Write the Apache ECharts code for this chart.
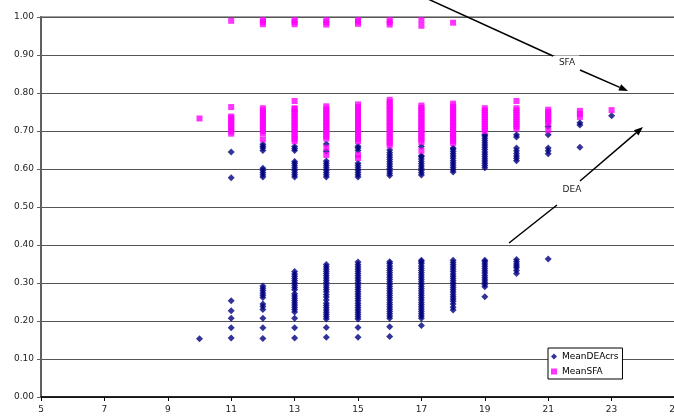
<!DOCTYPE html>
<html>
<head>
<meta charset="utf-8">
<script src="https://cdn.jsdelivr.net/npm/echarts@6/dist/echarts.min.js"></script>
<style>
  html, body { margin: 0; padding: 0; background: #fff; }
  #chart { width: 674px; height: 417px; }
</style>
</head>
<body>
<div id="chart"></div>
<script>
// tick labels
var xTicks = [5, 7, 9, 11, 13, 15, 17, 19, 21, 23, 25];
var yTicks = [0, 0.1, 0.2, 0.3, 0.4, 0.5, 0.6, 0.7, 0.8, 0.9, 1.0];

// x positions of the columns
var xValues = [10, 11, 12, 13, 14, 15, 16, 17, 18, 19, 20, 21, 22, 23];

// MeanDEAcrs, one list per x column
var deaValues = [
  [0.153],
  [0.155, 0.182, 0.207, 0.227, 0.253, 0.577, 0.645],
  [0.154, 0.182, 0.207, 0.23, 0.238, 0.245, 0.262, 0.268, 0.274, 0.28, 0.286, 0.292,
   0.579, 0.585, 0.591, 0.597, 0.602, 0.649, 0.655, 0.66, 0.665],
  [0.155, 0.182, 0.207, 0.224, 0.23, 0.236, 0.242, 0.248, 0.254, 0.26, 0.266, 0.272,
   0.282, 0.288, 0.294, 0.3, 0.306, 0.312, 0.318, 0.324, 0.33,
   0.579, 0.585, 0.591, 0.597, 0.603, 0.609, 0.615, 0.62, 0.649, 0.654, 0.659],
  [0.157, 0.183, 0.205, 0.211, 0.217, 0.223, 0.229, 0.235, 0.241, 0.247, 0.255, 0.263,
   0.27, 0.277, 0.283, 0.289, 0.295, 0.301, 0.307, 0.313, 0.319, 0.325, 0.331, 0.337,
   0.343, 0.349, 0.579, 0.585, 0.591, 0.597, 0.603, 0.609, 0.615, 0.621, 0.647, 0.666],
  [0.157, 0.183, 0.205, 0.211, 0.217, 0.223, 0.229, 0.235, 0.241, 0.247, 0.253, 0.259,
   0.265, 0.271, 0.277, 0.283, 0.289, 0.295, 0.301, 0.307, 0.313, 0.319, 0.325, 0.331,
   0.337, 0.343, 0.349, 0.355, 0.579, 0.585, 0.591, 0.597, 0.603, 0.609, 0.615,
   0.649, 0.655, 0.66],
  [0.159, 0.185, 0.207, 0.213, 0.219, 0.225, 0.231, 0.237, 0.243, 0.249, 0.255, 0.261,
   0.267, 0.273, 0.279, 0.285, 0.291, 0.297, 0.303, 0.309, 0.315, 0.321, 0.327, 0.333,
   0.339, 0.345, 0.351, 0.356, 0.583, 0.589, 0.595, 0.601, 0.607, 0.613, 0.619, 0.625,
   0.631, 0.637, 0.643, 0.65],
  [0.188, 0.207, 0.213, 0.219, 0.225, 0.231, 0.237, 0.243, 0.249, 0.255, 0.261, 0.267,
   0.273, 0.279, 0.285, 0.291, 0.297, 0.303, 0.309, 0.315, 0.321, 0.327, 0.333, 0.339,
   0.345, 0.351, 0.356, 0.36, 0.584, 0.59, 0.596, 0.602, 0.608, 0.614, 0.62, 0.626,
   0.632, 0.635, 0.659],
  [0.229, 0.236, 0.245, 0.252, 0.258, 0.264, 0.27, 0.276, 0.282, 0.288, 0.294, 0.3,
   0.306, 0.312, 0.318, 0.324, 0.33, 0.336, 0.342, 0.348, 0.354, 0.36,
   0.592, 0.598, 0.604, 0.61, 0.616, 0.622, 0.628, 0.634, 0.64, 0.646, 0.652, 0.655],
  [0.264, 0.29, 0.296, 0.302, 0.308, 0.314, 0.32, 0.326, 0.332, 0.338, 0.344, 0.35,
   0.356, 0.36, 0.603, 0.609, 0.615, 0.621, 0.627, 0.633, 0.639, 0.645, 0.651, 0.657,
   0.663, 0.669, 0.675, 0.681, 0.687, 0.69],
  [0.325, 0.333, 0.34, 0.345, 0.35, 0.356, 0.362,
   0.622, 0.628, 0.634, 0.641, 0.648, 0.655, 0.684, 0.69],
  [0.363, 0.64, 0.648, 0.655, 0.69, 0.712],
  [0.657, 0.716, 0.722],
  [0.74]
];

// MeanSFA, one list per x column
var sfaValues = [
  [0.733],
  [0.693, 0.699, 0.705, 0.711, 0.717, 0.723, 0.729, 0.735, 0.738, 0.763, 0.99],
  [0.678, 0.694, 0.7, 0.706, 0.712, 0.718, 0.724, 0.73, 0.736, 0.742, 0.748, 0.754,
   0.76, 0.981, 0.987, 0.992],
  [0.673, 0.679, 0.685, 0.691, 0.697, 0.703, 0.709, 0.715, 0.721, 0.727, 0.733, 0.739,
   0.745, 0.751, 0.757, 0.76, 0.779, 0.981, 0.987, 0.992],
  [0.637, 0.656, 0.68, 0.686, 0.692, 0.698, 0.704, 0.71, 0.716, 0.722, 0.728, 0.734,
   0.74, 0.746, 0.752, 0.758, 0.765, 0.98, 0.986, 0.992],
  [0.629, 0.637, 0.673, 0.679, 0.685, 0.691, 0.697, 0.703, 0.709, 0.715, 0.721, 0.727,
   0.733, 0.739, 0.745, 0.751, 0.757, 0.763, 0.77, 0.982, 0.988, 0.992],
  [0.662, 0.668, 0.674, 0.68, 0.686, 0.692, 0.698, 0.704, 0.71, 0.716, 0.722, 0.728,
   0.734, 0.74, 0.746, 0.752, 0.758, 0.764, 0.77, 0.776, 0.782, 0.98, 0.986, 0.992],
  [0.648, 0.671, 0.677, 0.683, 0.689, 0.695, 0.701, 0.707, 0.713, 0.719, 0.725, 0.731,
   0.737, 0.743, 0.749, 0.755, 0.761, 0.767, 0.977, 0.992],
  [0.668, 0.674, 0.68, 0.686, 0.692, 0.698, 0.704, 0.71, 0.716, 0.722, 0.728, 0.734,
   0.74, 0.746, 0.752, 0.758, 0.764, 0.772, 0.985],
  [0.7, 0.706, 0.712, 0.718, 0.724, 0.73, 0.736, 0.742, 0.748, 0.754, 0.76],
  [0.706, 0.712, 0.718, 0.724, 0.73, 0.736, 0.742, 0.748, 0.754, 0.76, 0.779],
  [0.702, 0.72, 0.726, 0.732, 0.738, 0.744, 0.75, 0.756],
  [0.737, 0.745, 0.753],
  [0.755]
];

function toPoints(cols) {
  var pts = [];
  xValues.forEach(function (x, i) {
    cols[i].forEach(function (v) { pts.push([x, v]); });
  });
  return pts;
}

// arrow = line plus a filled head at (x2, y2)
function arrow(x1, y1, x2, y2) {
  var a = Math.atan2(y2 - y1, x2 - x1);
  var L = 9, W = 3.5;
  var bx = x2 - L * Math.cos(a), by = y2 - L * Math.sin(a);
  return [
    { type: 'line', shape: { x1: x1, y1: y1, x2: bx, y2: by },
      style: { stroke: '#000', lineWidth: 1.5 }, z: 50 },
    { type: 'polygon', shape: { points: [[x2, y2],
        [bx + W * Math.sin(a), by - W * Math.cos(a)],
        [bx - W * Math.sin(a), by + W * Math.cos(a)]] },
      style: { fill: '#000' }, z: 50 }
  ];
}

function plainLine(x1, y1, x2, y2) {
  return { type: 'line', shape: { x1: x1, y1: y1, x2: x2, y2: y2 },
    style: { stroke: '#000', lineWidth: 1.5 }, z: 50 };
}

function label(text, x, y) {
  return { type: 'text', z: 51,
    style: { text: text, x: x, y: y, align: 'center', verticalAlign: 'middle',
      font: '9px "DejaVu Sans"', fill: '#222', backgroundColor: '#fff', padding: [3, 4] } };
}

var font = '"DejaVu Sans", sans-serif';
var chart = echarts.init(document.getElementById('chart'));

chart.setOption({
  animation: false,
  grid: { left: 41, right: -1, top: 17, bottom: 20, show: true, outerBoundsMode: 'none',
    borderColor: '#808080', borderWidth: 1.5, backgroundColor: 'transparent' },
  xAxis: {
    type: 'value', min: 5, max: 25,
    axisLine: { lineStyle: { color: '#000', width: 1.5 } },
    axisTick: { show: true, length: 4, customValues: xTicks, lineStyle: { color: '#000' } },
    axisLabel: { customValues: xTicks, margin: 8, color: '#222', fontFamily: font, fontSize: 9 },
    splitLine: { show: false }
  },
  yAxis: {
    type: 'value', min: 0, max: 1, interval: 0.1,
    axisLine: { show: true, lineStyle: { color: '#606060', width: 2 } },
    axisTick: { show: true, length: 4, lineStyle: { color: '#606060' } },
    axisLabel: { margin: 7, color: '#222', fontFamily: font, fontSize: 9,
      formatter: function (v) { return v.toFixed(2); } },
    splitLine: { show: true, lineStyle: { color: '#555', width: 1 } }
  },
  legend: {
    orient: 'vertical', left: 548, top: 348,
    itemWidth: 6, itemHeight: 6, itemGap: 6,
    padding: [4, 4, 3, 3],
    borderColor: '#000', borderWidth: 1, backgroundColor: '#fff',
    textStyle: { fontFamily: font, fontSize: 9, color: '#000' },
    data: [{ name: 'MeanDEAcrs', icon: 'diamond' }, { name: 'MeanSFA', icon: 'rect' }]
  },
  series: [
    { name: 'MeanDEAcrs', type: 'scatter', symbol: 'diamond', symbolSize: 7,
      itemStyle: { color: '#000080' }, z: 2, data: toPoints(deaValues) },
    { name: 'MeanSFA', type: 'scatter', symbol: 'rect', symbolSize: 6,
      itemStyle: { color: '#ff00ff' }, z: 3, data: toPoints(sfaValues) }
  ],
  graphic: [].concat(
    [plainLine(428, -1, 553, 56)],
    arrow(580, 70, 628, 91),
    [label('SFA', 567, 63)],
    [plainLine(509, 243, 557, 205)],
    arrow(580, 181, 643, 127),
    [label('DEA', 572, 190)]
  )
});
</script>
</body>
</html>
